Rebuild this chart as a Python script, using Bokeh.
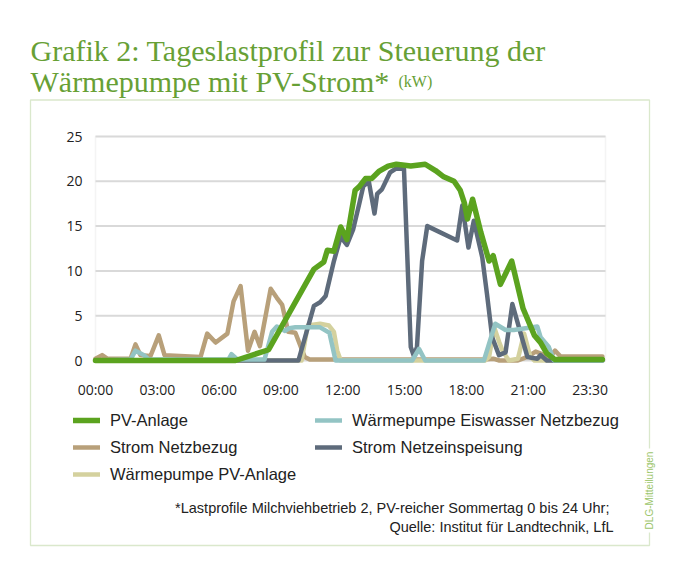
import math
from bokeh.plotting import figure
from bokeh.models import (Range1d, FixedTicker, Label, Legend, LegendItem,
                          BoxAnnotation)
from bokeh.embed import file_html
from bokeh.resources import INLINE

# ---------------- data (x = time slot in hours on the category axis) -------------
tick_pos = [0, 3, 6, 9, 12, 15, 18, 21, 24]
tick_labels = ["00:00", "03:00", "06:00", "09:00", "12:00", "15:00", "18:00", "21:00", "23:30"]
y_ticks = [0, 5, 10, 15, 20, 25]
x_end = 24.75
y_end = 25

pv_t = [0, 6.8, 8.4, 10.6, 11.08, 11.25, 11.57, 11.9, 12.2, 12.6, 12.8, 13.1, 13.4, 13.75,
        14.2, 14.6, 15.3, 16.0, 16.5, 16.9, 17.4, 17.7, 17.9, 18.05, 18.3, 18.7, 19.1, 19.3,
        19.65, 20.2, 20.75, 21.3, 21.6, 21.9, 22.3, 24.6]
pv_v = [0, 0, 1.2, 10.2, 11.0, 12.3, 12.2, 14.9, 13.5, 19.0, 19.4, 20.3, 20.3, 21.1,
        21.7, 21.9, 21.7, 21.9, 21.2, 20.5, 20.0, 19.0, 17.6, 15.8, 18.0, 14.3, 11.1, 11.7,
        8.5, 11.1, 5.8, 2.8, 2.0, 0.8, 0.1, 0.1]

ne_t = [0, 9.85, 10.6, 10.9, 11.17, 11.57, 11.9, 12.2, 12.5, 12.8, 13.0, 13.27, 13.54, 13.67,
        13.9, 14.3, 14.56, 14.97, 15.3, 15.45, 15.6, 15.85, 16.1, 17.55, 17.8, 18.1, 18.36,
        18.77, 19.0, 19.25, 19.58, 19.9, 20.23, 20.55, 20.96, 21.44, 21.6, 21.9, 24.6]
ne_v = [0, 0, 6.1, 6.5, 7.2, 11.1, 13.8, 12.9, 14.6, 17.5, 19.5, 19.9, 16.4, 18.6,
        19.1, 21.0, 21.4, 21.4, 1.5, 0.5, 1.5, 11.1, 15.0, 13.4, 17.3, 12.6, 15.6,
        11.5, 7.4, 2.6, 0.6, 0.9, 6.3, 3.7, 0.4, 0.2, 0.6, 0.0, 0.0]

nb_t = [0, 0.32, 0.57, 1.7, 1.94, 2.18, 2.67, 3.07, 3.35, 5.1, 5.42, 5.83, 6.4, 6.7, 7.04,
        7.4, 7.72, 7.98, 8.5, 8.8, 9.06, 9.35, 9.7, 10.15, 10.4, 18.9, 19.3, 19.6, 20.5,
        20.96, 21.36, 21.7, 22.0, 22.3, 22.57, 24.6]
nb_v = [0.2, 0.6, 0.2, 0.2, 1.8, 0.6, 0.5, 2.8, 0.6, 0.4, 3.0, 2.0, 3.0, 6.6, 8.3,
        1.1, 3.2, 1.6, 8.0, 7.0, 6.2, 3.2, 3.1, 0.4, 0.1, 0.1, 0.2, 0.0, 0.0,
        0.4, 1.0, 0.7, 0.2, 1.1, 0.45, 0.45]

we_t = [0, 1.7, 1.94, 2.35, 2.6, 6.45, 6.6, 6.9, 8.2, 8.57, 8.8, 9.2, 9.4, 9.7, 10.9, 11.35,
        11.65, 15.37, 15.7, 16.0, 18.85, 19.4, 19.9, 20.3, 21.44, 21.6, 22.0, 22.25, 24.6]
we_v = [0, 0.1, 1.1, 0.6, 0.1, 0.1, 0.7, 0.1, 0.1, 3.2, 3.8, 3.3, 3.6, 3.7, 3.7, 3.1,
        0, 0, 1.3, 0, 0, 4.1, 3.4, 3.4, 3.8, 2.6, 1.5, 0, 0]

wp_t = [0, 10.0, 10.2, 10.3, 10.9, 11.33, 11.57, 11.73, 11.9, 18.9, 19.1, 19.35, 19.6, 19.75,
        20.06, 20.5, 20.8, 21.1, 21.3, 24.6]
wp_v = [0, 0, 2.6, 3.9, 4.1, 3.9, 3.2, 1.1, 0, 0, 0.4, 3.7, 2.0, 1.1,
        0, 0.2, 3.0, 0.4, 0, 0]

colors = {"PV-Anlage": "#5ba31f", "Wärmepumpe Eiswasser Netzbezug": "#93c4c4",
          "Strom Netzbezug": "#b8a07a", "Strom Netzeinspeisung": "#5e6b7b",
          "Wärmepumpe PV-Anlage": "#d4d19e"}

title1 = "Grafik 2: Tageslastprofil  zur Steuerung der"
title2 = "Wärmepumpe mit PV-Strom*"
title_unit = "(kW)"
note1 = "*Lastprofile Milchviehbetrieb 2,  PV-reicher Sommertag 0 bis 24 Uhr;"
note2 = "Quelle: Institut für Landtechnik, LfL"
credit = "DLG-Mitteilungen"

# ---------------- layout geometry (pixels) ----------------
W, H = 667, 561
PL, PR, PT, PB = 95, 605, 136, 360          # plot area in canvas pixels
kx = (PR - PL) / x_end
ky = (PB - PT) / y_end

p = figure(width=W, height=H, output_backend="svg", toolbar_location=None, title=None,
           x_range=Range1d(-PL / kx, (W - PL) / kx),
           y_range=Range1d(-(H - PB) / ky, PB / ky),
           min_border=0, min_border_left=0, min_border_right=0,
           min_border_top=0, min_border_bottom=0)
p.background_fill_color = "white"
p.border_fill_color = "white"
p.outline_line_color = None
p.xgrid.grid_line_color = None
p.ygrid.grid_line_color = None

# axes drawn at the plot area's edges (fixed location => no side panels)
p.xaxis.fixed_location = 0
p.yaxis.fixed_location = 0
p.xaxis.ticker = FixedTicker(ticks=tick_pos)
p.xaxis.major_label_overrides = {t: l for t, l in zip(tick_pos, tick_labels)}
p.yaxis.ticker = FixedTicker(ticks=y_ticks)
for ax in (p.xaxis, p.yaxis):
    ax.axis_line_color = None
    ax.major_tick_line_color = None
    ax.minor_tick_line_color = None
    ax.major_label_text_font = "Open Sans"
    ax.major_label_text_font_size = "14px"
    ax.major_label_text_color = "#222222"
p.xaxis.major_label_standoff = 13
p.yaxis.major_label_standoff = 7

# horizontal grid lines and plot-area outline
p.segment(x0=[0] * len(y_ticks), x1=[x_end] * len(y_ticks), y0=y_ticks, y1=y_ticks,
          line_color="#d9d9d9", line_width=2)
p.add_layout(BoxAnnotation(left=0, right=x_end, bottom=0, top=y_end, fill_color=None,
                           line_color="#d9d9d9", line_width=1.5, level="underlay"))

series = {
    "Strom Netzbezug": (nb_t, nb_v, 4.5),
    "Wärmepumpe PV-Anlage": (wp_t, wp_v, 4.5),
    "Strom Netzeinspeisung": (ne_t, ne_v, 4.5),
    "Wärmepumpe Eiswasser Netzbezug": (we_t, we_v, 4.5),
    "PV-Anlage": (pv_t, pv_v, 5.5),
}
rend = {}
for name, (xs, ys, lw) in series.items():
    rend[name] = p.line(xs, ys, line_color=colors[name], line_width=lw,
                        line_join="round", line_cap="round")

def sx(px): return px
def sy(py): return H - py

# outer green box
p.add_layout(BoxAnnotation(left=sx(30), right=sx(649), top=sy(99.5), bottom=sy(545),
                           left_units="screen", right_units="screen", top_units="screen",
                           bottom_units="screen", fill_color=None, line_color="#86b356",
                           line_width=1.3))

# titles
for txt, y in ((title1, 49.5), (title2, 81)):
    p.add_layout(Label(x=sx(30), y=sy(y), x_units="screen", y_units="screen", text=txt,
                       text_font="Liberation Serif", text_font_size="30px",
                       text_color="#67a035", text_baseline="alphabetic"))
p.add_layout(Label(x=sx(398), y=sy(81), x_units="screen", y_units="screen", text=title_unit,
                   text_font="Liberation Serif", text_font_size="16px",
                   text_color="#67a035", text_baseline="alphabetic"))

# legends (two columns)
def make_legend(items, x, ytop):
    n = len(items)
    h = n * 20 + (n - 1) * 7
    lg = Legend(items=[LegendItem(label=nm, renderers=[rend[nm]]) for nm in items],
                location=(sx(x), sy(ytop + h)), orientation="vertical",
                padding=0, margin=0, spacing=7, glyph_width=27, glyph_height=20,
                label_height=20, label_standoff=10, border_line_color=None,
                background_fill_alpha=0, label_text_font="Liberation Sans",
                label_text_font_size="16.5px", label_text_color="#222222")
    p.add_layout(lg)

make_legend(["PV-Anlage", "Strom Netzbezug", "Wärmepumpe PV-Anlage"], 73, 410)
make_legend(["Wärmepumpe Eiswasser Netzbezug", "Strom Netzeinspeisung"], 315, 410)

# footnote
for txt, y in ((note1, 507), (note2, 526.5)):
    p.add_layout(Label(x=sx(613), y=sy(y), x_units="screen", y_units="screen", text=txt,
                       text_font="Liberation Sans", text_font_size="14.5px",
                       text_color="#222222", text_align="right", text_baseline="middle"))

# vertical credit on the right edge of the box
p.add_layout(Label(x=sx(649), y=sy(490), x_units="screen", y_units="screen", text=credit,
                   angle=math.pi / 2, text_font="Liberation Sans", text_font_size="10px",
                   text_color="#9cc56b", text_align="center", text_baseline="middle",
                   background_fill_color="white", padding=3))

open("out.html", "w").write(file_html(p, INLINE))
